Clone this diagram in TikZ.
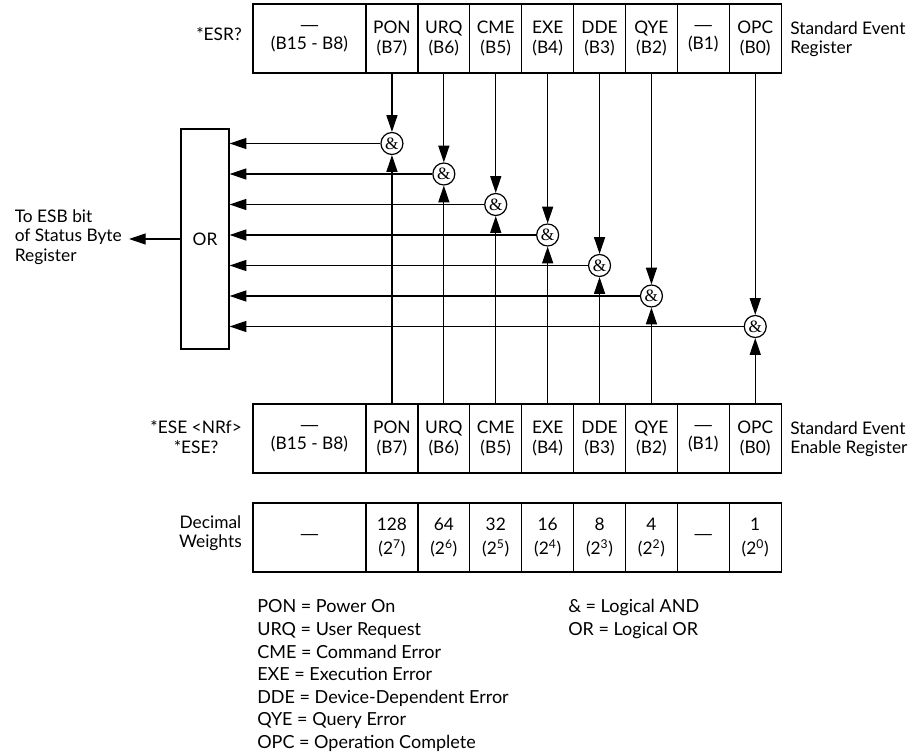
\documentclass[tikz,border=0pt]{standalone}
\usepackage{fontspec}
\setmainfont{Lato}
\newfontfamily\ampfont{Liberation Serif}
\newfontfamily\dashfont{Liberation Sans}
\newcommand\mydash{{\dashfont —}}
\usetikzlibrary{arrows.meta}
\begin{document}
\begin{tikzpicture}[x=0.75pt,y=-0.75pt,
  every node/.style={font=\fontsize{13}{14.5}\selectfont},
  cell/.style={draw, line width=0.9pt, minimum width=38.9pt, minimum height=51.75pt, inner sep=0pt, align=center},
  widecell/.style={cell, minimum width=84.75pt},
  gate/.style={draw, circle, fill=white, line width=0.9pt, minimum size=16.5pt, inner sep=0pt, font=\ampfont\fontsize{13}{14}\selectfont},
  arr/.style={line width=0.9pt, -{Triangle[length=12.5pt,width=8.25pt]}},
  lbl/.style={inner sep=0pt},
  leg/.style={inner sep=0pt, anchor=base west, font=\fontsize{13.5}{15}\selectfont}
]
\useasboundingbox (0,0) rectangle (922,755);

% registers
\node[widecell] (tBH) at (309.5,38.5) {\mydash\\(B15 - B8)};
\node[widecell] (bBH) at (309.5,438.5) {\mydash\\(B15 - B8)};
\foreach \nm/\b [count=\i from 0] in {PON/B7,URQ/B6,CME/B5,EXE/B4,DDE/B3,QYE/B2,\mydash/B1,OPC/B0}{
  \node[cell] (t\b) at (391.95+51.9*\i,38.5) {\nm\\(\b)};
  \node[cell] (b\b) at (391.95+51.9*\i,438.5) {\nm\\(\b)};
}
% weights
\node[widecell] (wBH) at (309.5,537.5) {\mydash};
\foreach \w/\e/\b [count=\i from 0] in {128/7/B7,64/6/B6,32/5/B5,16/4/B4,8/3/B3,4/2/B2}{
  \node[cell] (w\b) at (391.95+51.9*\i,537.5) {\w\\[3pt](2\textsuperscript{\e})};
}
\node[cell] (wB1) at (391.95+51.9*6,537.5) {\mydash};
\node[cell] (wB0) at (391.95+51.9*7,537.5) {1\\[3pt](2\textsuperscript{0})};

% OR box
\node[draw, line width=0.9pt, minimum width=36pt, minimum height=165pt, inner sep=0pt] (orbox) at (205,239) {OR};

% gates
\foreach \b [count=\i from 0] in {B7,B6,B5,B4,B3,B2}{
  \node[gate] (g\b) at (391.95+51.9*\i,143.5+30.5*\i) {\&};
}
\node[gate] (gB0) at (391.95+51.9*7,326.5) {\&};

\foreach \b in {B7,B6,B5,B4,B3,B2,B0}{
  \draw[arr] (t\b) -- (g\b);
  \draw[arr] (b\b) -- (g\b);
  \draw[arr] (g\b) -- (g\b -| orbox.east);
}

% output
\coordinate (esbtip) at (129,239);
\draw[arr] (orbox) -- (esbtip);
\node[lbl, anchor=east, align=left] (esb) at (122,237) {To ESB bit\\of Status Byte\\Register};

% side labels
\node[lbl, anchor=east] (esr) at (242,34) {*ESR?};
\node[lbl, anchor=east, align=center] (ese) at (242,437) {*ESE <NRf>\\*ESE?};
\node[lbl, anchor=east, align=center] (dw) at (242,533) {Decimal\\Weights};
\node[lbl, anchor=west, align=left] (ser) at (790,39) {Standard Event\\Register};
\node[lbl, anchor=west, align=left] (sesr) at (790,439) {Standard Event\\Enable Register};

% legend
\node[leg] (l1) at (257,613) {PON = Power On};
\node[leg] (l2) at (257,636) {URQ = User Request};
\node[leg] (l3) at (257,658.5) {CME = Command Error};
\node[leg] (l4) at (257,681) {EXE = Execution Error};
\node[leg] (l5) at (257,703) {DDE = Device-Dependent Error};
\node[leg] (l6) at (257,725) {QYE = Query Error};
\node[leg] (l7) at (257,748) {OPC = Operation Complete};
\node[leg] (r1) at (568,613) {\& = Logical AND};
\node[leg] (r2) at (568,636) {OR = Logical OR};
\end{tikzpicture}
\end{document}
